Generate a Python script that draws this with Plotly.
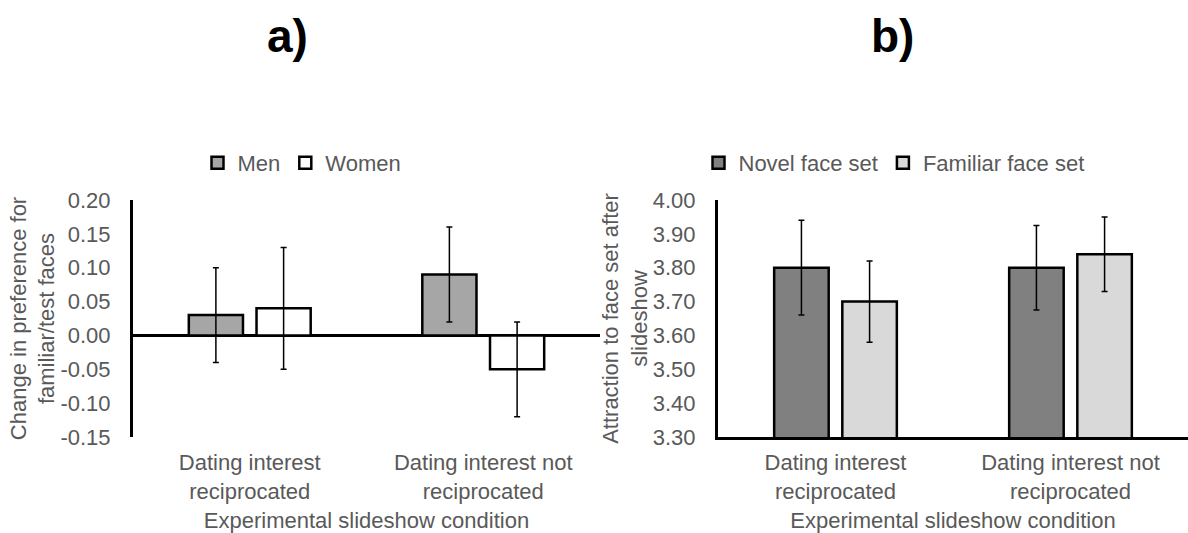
import plotly.graph_objects as go

categories = ["Dating interest<br>reciprocated", "Dating interest not<br>reciprocated"]

men_vals = [0.03, 0.09]
men_err = [0.07, 0.07]
women_vals = [0.04, -0.05]
women_err = [0.09, 0.07]

novel_vals = [3.80, 3.80]
novel_err = [0.14, 0.125]
familiar_vals = [3.70, 3.84]
familiar_err = [0.12, 0.11]

ticks_a = [0.20, 0.15, 0.10, 0.05, 0.00, -0.05, -0.10, -0.15]
ticks_b = [4.00, 3.90, 3.80, 3.70, 3.60, 3.50, 3.40, 3.30]

W, H = 1188, 533
FONT = "Liberation Sans, Arial, sans-serif"
GRAY = "#595959"

def px(x):
    return x / W

def py(y):
    return 1 - y / H

fig = go.Figure()

def bar(name, x, y, err, color, xa, ya, legend):
    fig.add_trace(go.Bar(
        name=name, x=x, y=y, xaxis=xa, yaxis=ya, legend=legend,
        marker=dict(color=color, line=dict(color="black", width=2.5)),
        error_y=dict(type="data", array=err, visible=True, color="black",
                     thickness=1.5, width=3),
    ))

bar("Men", categories, men_vals, men_err, "#a6a6a6", "x", "y", "legend")
bar("Women", categories, women_vals, women_err, "#ffffff", "x", "y", "legend")
bar("Novel face set", categories, novel_vals, novel_err, "#808080", "x2", "y2", "legend2")
bar("Familiar face set", categories, familiar_vals, familiar_err, "#d9d9d9", "x2", "y2", "legend2")

axfont = dict(family=FONT, size=22, color=GRAY)

fig.update_layout(
    template="none",
    width=W, height=H, autosize=False,
    margin=dict(l=0, r=0, t=0, b=0, pad=0, autoexpand=False),
    paper_bgcolor="white", plot_bgcolor="white",
    barmode="group", bargap=0.42, bargroupgap=0.2,
    font=axfont,
    xaxis=dict(domain=[px(133), px(600)], anchor="y", showgrid=False, automargin=False,
               showline=False, ticks="", tickfont=axfont, ticklabelstandoff=10,
               title=dict(text="Experimental slideshow condition", font=axfont, standoff=12)),
    yaxis=dict(domain=[py(437), py(200)], anchor="x", range=[-0.15, 0.20], automargin=False,
               tickvals=ticks_a, ticktext=[f"{v:.2f}" for v in ticks_a],
               showgrid=False, showline=True, linecolor="black", linewidth=3,
               zeroline=True, zerolinecolor="black", zerolinewidth=3,
               ticks="", tickfont=axfont, ticklabelstandoff=15,
               title=dict(text="Change in preference for<br>familiar/test faces", font=axfont, standoff=0)),
    xaxis2=dict(domain=[px(718), 1.0], anchor="y2", showgrid=False, automargin=False,
                showline=True, linecolor="black", linewidth=3, ticks="",
                tickfont=axfont, ticklabelstandoff=4,
                title=dict(text="Experimental slideshow condition", font=axfont, standoff=12)),
    yaxis2=dict(domain=[py(437), py(200)], anchor="x2", range=[3.30, 4.00], automargin=False,
                tickvals=ticks_b, ticktext=[f"{v:.2f}" for v in ticks_b],
                showgrid=False, showline=True, linecolor="black", linewidth=3,
                zeroline=False, ticks="", tickfont=axfont, ticklabelstandoff=15,
                title=dict(text="Attraction to face set after<br>slideshow", font=axfont, standoff=0)),
    legend=dict(orientation="h", x=px(302), y=py(163), xanchor="center", yanchor="middle",
                font=axfont, bgcolor="rgba(0,0,0,0)", itemwidth=30),
    legend2=dict(orientation="h", x=px(894), y=py(163), xanchor="center", yanchor="middle",
                 font=axfont, bgcolor="rgba(0,0,0,0)", itemwidth=30),
    annotations=[
        dict(text="<b>a)</b>", x=px(287), y=py(36), xref="paper", yref="paper",
             xanchor="center", yanchor="middle",
             showarrow=False, font=dict(family=FONT, size=46, color="black")),
        dict(text="<b>b)</b>", x=px(892), y=py(36), xref="paper", yref="paper",
             xanchor="center", yanchor="middle",
             showarrow=False, font=dict(family=FONT, size=46, color="black")),
    ],
)

fig.write_html("out.html", config={"displayModeBar": False},
               post_script="document.body.style.margin='0';document.body.style.overflow='hidden';")
